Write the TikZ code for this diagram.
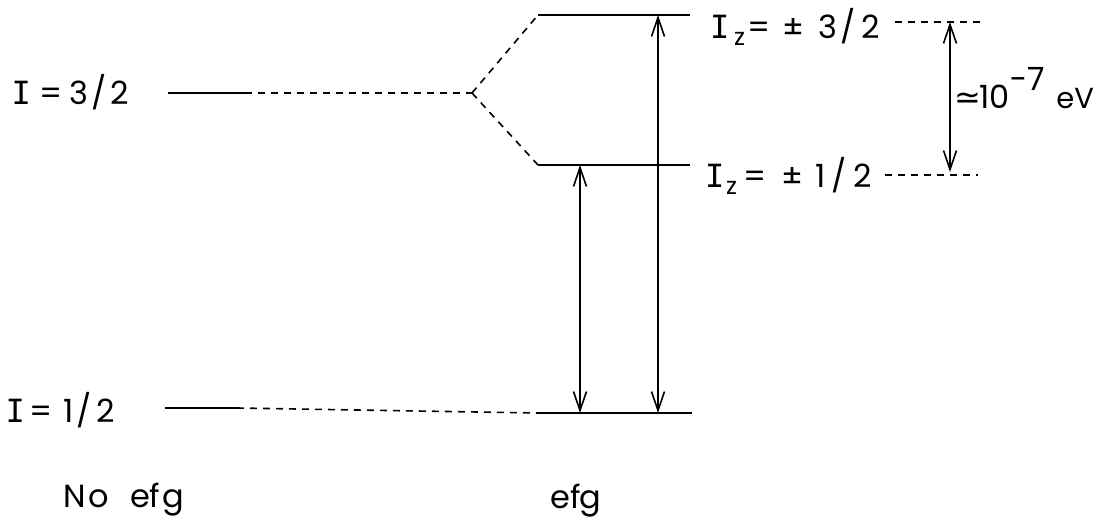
\documentclass[tikz,border=0pt]{standalone}
\usepackage{fontspec}
\setmainfont{Poppins}
\newfontfamily\serifI{DejaVu Sans Mono}
\newfontfamily\symf{DejaVu Sans}
\usetikzlibrary{arrows.meta}
\newcommand{\cI}{{\serifI I}}
% glyph centred at the current point, then advance #2 pt to the next centre
\newcommand{\g}[2]{\makebox[0pt]{#1}\hspace{#2pt}}
\newcommand{\zsub}{\raisebox{-0.45ex}{\fontsize{24}{26}\selectfont z}}
\begin{document}
\begin{tikzpicture}[x=1pt,y=-1pt,
  lvl/.style={line width=2.2pt},
  dsh/.style={line width=1.6pt,dash pattern=on 7pt off 6pt},
  dbl/.style={line width=1.3pt,{Straight Barb[length=19pt,width=13pt,line width=1.6pt]}-{Straight Barb[length=19pt,width=13pt,line width=1.6pt]}},
  lab/.style={inner sep=0pt,font=\fontsize{32}{35}\selectfont}]
\useasboundingbox[fill=white] (0,0) rectangle (1114,523);
% left levels
\node[lab,anchor=base west] (t32) at (21,104) {\g{\cI}{30}\g{=}{28}\g{3}{19.5}\g{/}{21}\g{2}{0}};
\node[lab,anchor=base west] (t12) at (15,422) {\g{\cI}{26}\g{=}{27}\g{1}{16}\g{/}{22}\g{2}{0}};
\coordinate (a1) at (168,93);
\coordinate (a2) at (245,93);
\coordinate (sp) at (472,93);
\coordinate (b1) at (165,408);
\coordinate (b2) at (237,408);
% efg levels
\coordinate (u1) at (538,15);
\coordinate (u2) at (690,15);
\coordinate (m1) at (538,165);
\coordinate (m2) at (690,165);
\coordinate (l1) at (538,413);
\coordinate (l2) at (692,413);
\draw[lvl] (a1) -- (a2);
\draw[dsh] (a2) -- (sp);
\draw[dsh] (sp) -- (u1);
\draw[dsh] (sp) -- (m1);
\draw[lvl] (b1) -- (b2);
\draw[dsh] (b2) -- (l1);
\draw[lvl] (u1) -- (u2);
\draw[lvl] (m1) -- (m2);
\draw[lvl] (l1) -- (l2);
% transitions
\coordinate (p1) at (580,165);
\coordinate (p2) at (580,413);
\coordinate (q1) at (658,15);
\coordinate (q2) at (658,413);
\draw[dbl] (p1) -- (p2);
\draw[dbl] (q1) -- (q2);
% right labels
\node[lab,anchor=base west] (z32) at (719.5,38) {\g{\cI}{20}\g{\zsub}{19}\g{=}{34.5}\g{±}{34.5}\g{3}{20}\g{/}{23}\g{2}{0}};
\node[lab,anchor=base west] (z12) at (714.5,187) {\g{\cI}{17}\g{\zsub}{23.5}\g{=}{37.5}\g{±}{27.5}\g{1}{18.5}\g{/}{24}\g{2}{0}};
\coordinate (r1) at (895,22);
\coordinate (r2) at (980,22);
\coordinate (s1) at (885,175);
\coordinate (s2) at (978,175);
\draw[dsh] (r1) -- (r2);
\draw[dsh] (s1) -- (s2);
\coordinate (v1) at (950,22);
\coordinate (v2) at (950,172);
\draw[dbl] (v1) -- (v2);
\node[lab,anchor=base west] (ev) at (968,108) {\g{{\symf ≃}}{26}\g{10}{33}\g{\raisebox{1.0ex}{−7}}{48}\g{{\fontsize{29}{31}\selectfont eV}}{0}};
% bottom captions
\node[lab,anchor=base west] (ne) at (75,507) {\g{N}{24}\g{o}{41}\g{e}{15}\g{f}{18}\g{g}{0}};
\node[lab,anchor=base west] (ef) at (560.5,508) {\g{e}{15}\g{f}{15}\g{g}{0}};
\end{tikzpicture}
\end{document}
